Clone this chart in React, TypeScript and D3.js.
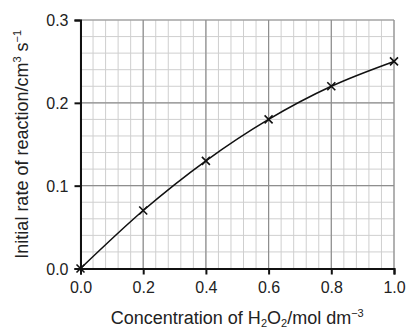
import React, { useEffect, useRef } from "react";
import * as d3 from "d3";

const concentration = [0.0, 0.2, 0.4, 0.6, 0.8, 1.0];
const rate = [0.0, 0.07, 0.13, 0.18, 0.22, 0.25];
const xTicks = [0.0, 0.2, 0.4, 0.6, 0.8, 1.0];
const yTicks = [0.0, 0.1, 0.2, 0.3];

const W = 408;
const H = 331;
const margin = { left: 80.5, right: 14, top: 20, bottom: 62.5 };
const font = "'Liberation Sans', Arial, Helvetica, sans-serif";

export default function App() {
  const ref = useRef(null);

  useEffect(() => {
    const svg = d3.select(ref.current);
    svg.selectAll("*").remove();

    const x = d3.scaleLinear().domain([0, 1]).range([margin.left, W - margin.right]);
    const y = d3.scaleLinear().domain([0, 0.3]).range([H - margin.bottom, margin.top]);

    const g = svg.append("g");

    // minor grid
    const minorX = d3.range(0, 1.0001, 0.04);
    const minorY = d3.range(0, 0.3001, 0.02);
    g.selectAll(".vminor")
      .data(minorX)
      .join("line")
      .attr("x1", (d) => x(d))
      .attr("x2", (d) => x(d))
      .attr("y1", y(0))
      .attr("y2", y(0.3))
      .attr("stroke", "#cfcfcf")
      .attr("stroke-width", 1);
    g.selectAll(".hminor")
      .data(minorY)
      .join("line")
      .attr("x1", x(0))
      .attr("x2", x(1))
      .attr("y1", (d) => y(d))
      .attr("y2", (d) => y(d))
      .attr("stroke", "#cfcfcf")
      .attr("stroke-width", 1);

    // major grid
    g.selectAll(".vmajor")
      .data(xTicks)
      .join("line")
      .attr("x1", (d) => x(d))
      .attr("x2", (d) => x(d))
      .attr("y1", y(0))
      .attr("y2", y(0.3))
      .attr("stroke", "#8e8e8e")
      .attr("stroke-width", 1.2);
    g.selectAll(".hmajor")
      .data(yTicks)
      .join("line")
      .attr("x1", x(0))
      .attr("x2", x(1))
      .attr("y1", (d) => y(d))
      .attr("y2", (d) => y(d))
      .attr("stroke", "#8e8e8e")
      .attr("stroke-width", 1.2);

    // axes
    const xAxis = d3.axisBottom(x).tickValues(xTicks).tickSize(6).tickFormat(d3.format(".1f"));
    const yAxis = d3.axisLeft(y).tickValues(yTicks).tickSize(6).tickFormat(d3.format(".1f"));

    const xg = svg.append("g").attr("transform", `translate(0,${y(0)})`).call(xAxis);
    const yg = svg.append("g").attr("transform", `translate(${x(0)},0)`).call(yAxis);

    [xg, yg].forEach((a) => {
      a.select(".domain").attr("stroke", "#111").attr("stroke-width", 2);
      a.selectAll(".tick line").attr("stroke", "#111").attr("stroke-width", 2);
      a.selectAll(".tick text")
        .attr("fill", "#222")
        .style("font-family", font)
        .style("font-size", "16px");
    });
    xg.selectAll(".tick text").attr("y", 13);
    yg.selectAll(".tick text").attr("x", -12).attr("dy", "0.36em");

    // curve
    const pts = concentration.map((c, i) => [x(c), y(rate[i])]);
    svg.append("path")
      .attr("d", d3.line().curve(d3.curveMonotoneX)(pts))
      .attr("fill", "none")
      .attr("stroke", "#111")
      .attr("stroke-width", 1.6);

    // markers
    const s = 4;
    svg.selectAll(".mark")
      .data(pts)
      .join("path")
      .attr("d", (d) => `M${d[0] - s},${d[1] - s}L${d[0] + s},${d[1] + s}M${d[0] - s},${d[1] + s}L${d[0] + s},${d[1] - s}`)
      .attr("stroke", "#111")
      .attr("stroke-width", 1.6)
      .attr("fill", "none");

    // x label
    const xl = svg.append("text")
      .attr("x", (x(0) + x(1)) / 2)
      .attr("y", 324)
      .attr("text-anchor", "middle")
      .attr("fill", "#222")
      .style("font-family", font)
      .style("font-size", "18px");
    xl.append("tspan").text("Concentration of H");
    xl.append("tspan").attr("dy", 3).style("font-size", "11px").text("2");
    xl.append("tspan").attr("dy", -3).text("O");
    xl.append("tspan").attr("dy", 3).style("font-size", "11px").text("2");
    xl.append("tspan").attr("dy", -3).text("/mol dm");
    xl.append("tspan").attr("dy", -7).style("font-size", "11px").text("−3");

    // y label
    const yl = svg.append("text")
      .attr("transform", `translate(28,${(y(0) + y(0.3)) / 2}) rotate(-90)`)
      .attr("text-anchor", "middle")
      .attr("fill", "#222")
      .style("font-family", font)
      .style("font-size", "18px");
    yl.append("tspan").text("Initial rate of reaction/cm");
    yl.append("tspan").attr("dy", -7).style("font-size", "11px").text("3");
    yl.append("tspan").attr("dy", 7).text(" s");
    yl.append("tspan").attr("dy", -7).style("font-size", "11px").text("−1");
  }, []);

  return (
    <svg
      ref={ref}
      width={W}
      height={H}
      style={{ position: "absolute", left: 0, top: 0, background: "#fff" }}
    />
  );
}
